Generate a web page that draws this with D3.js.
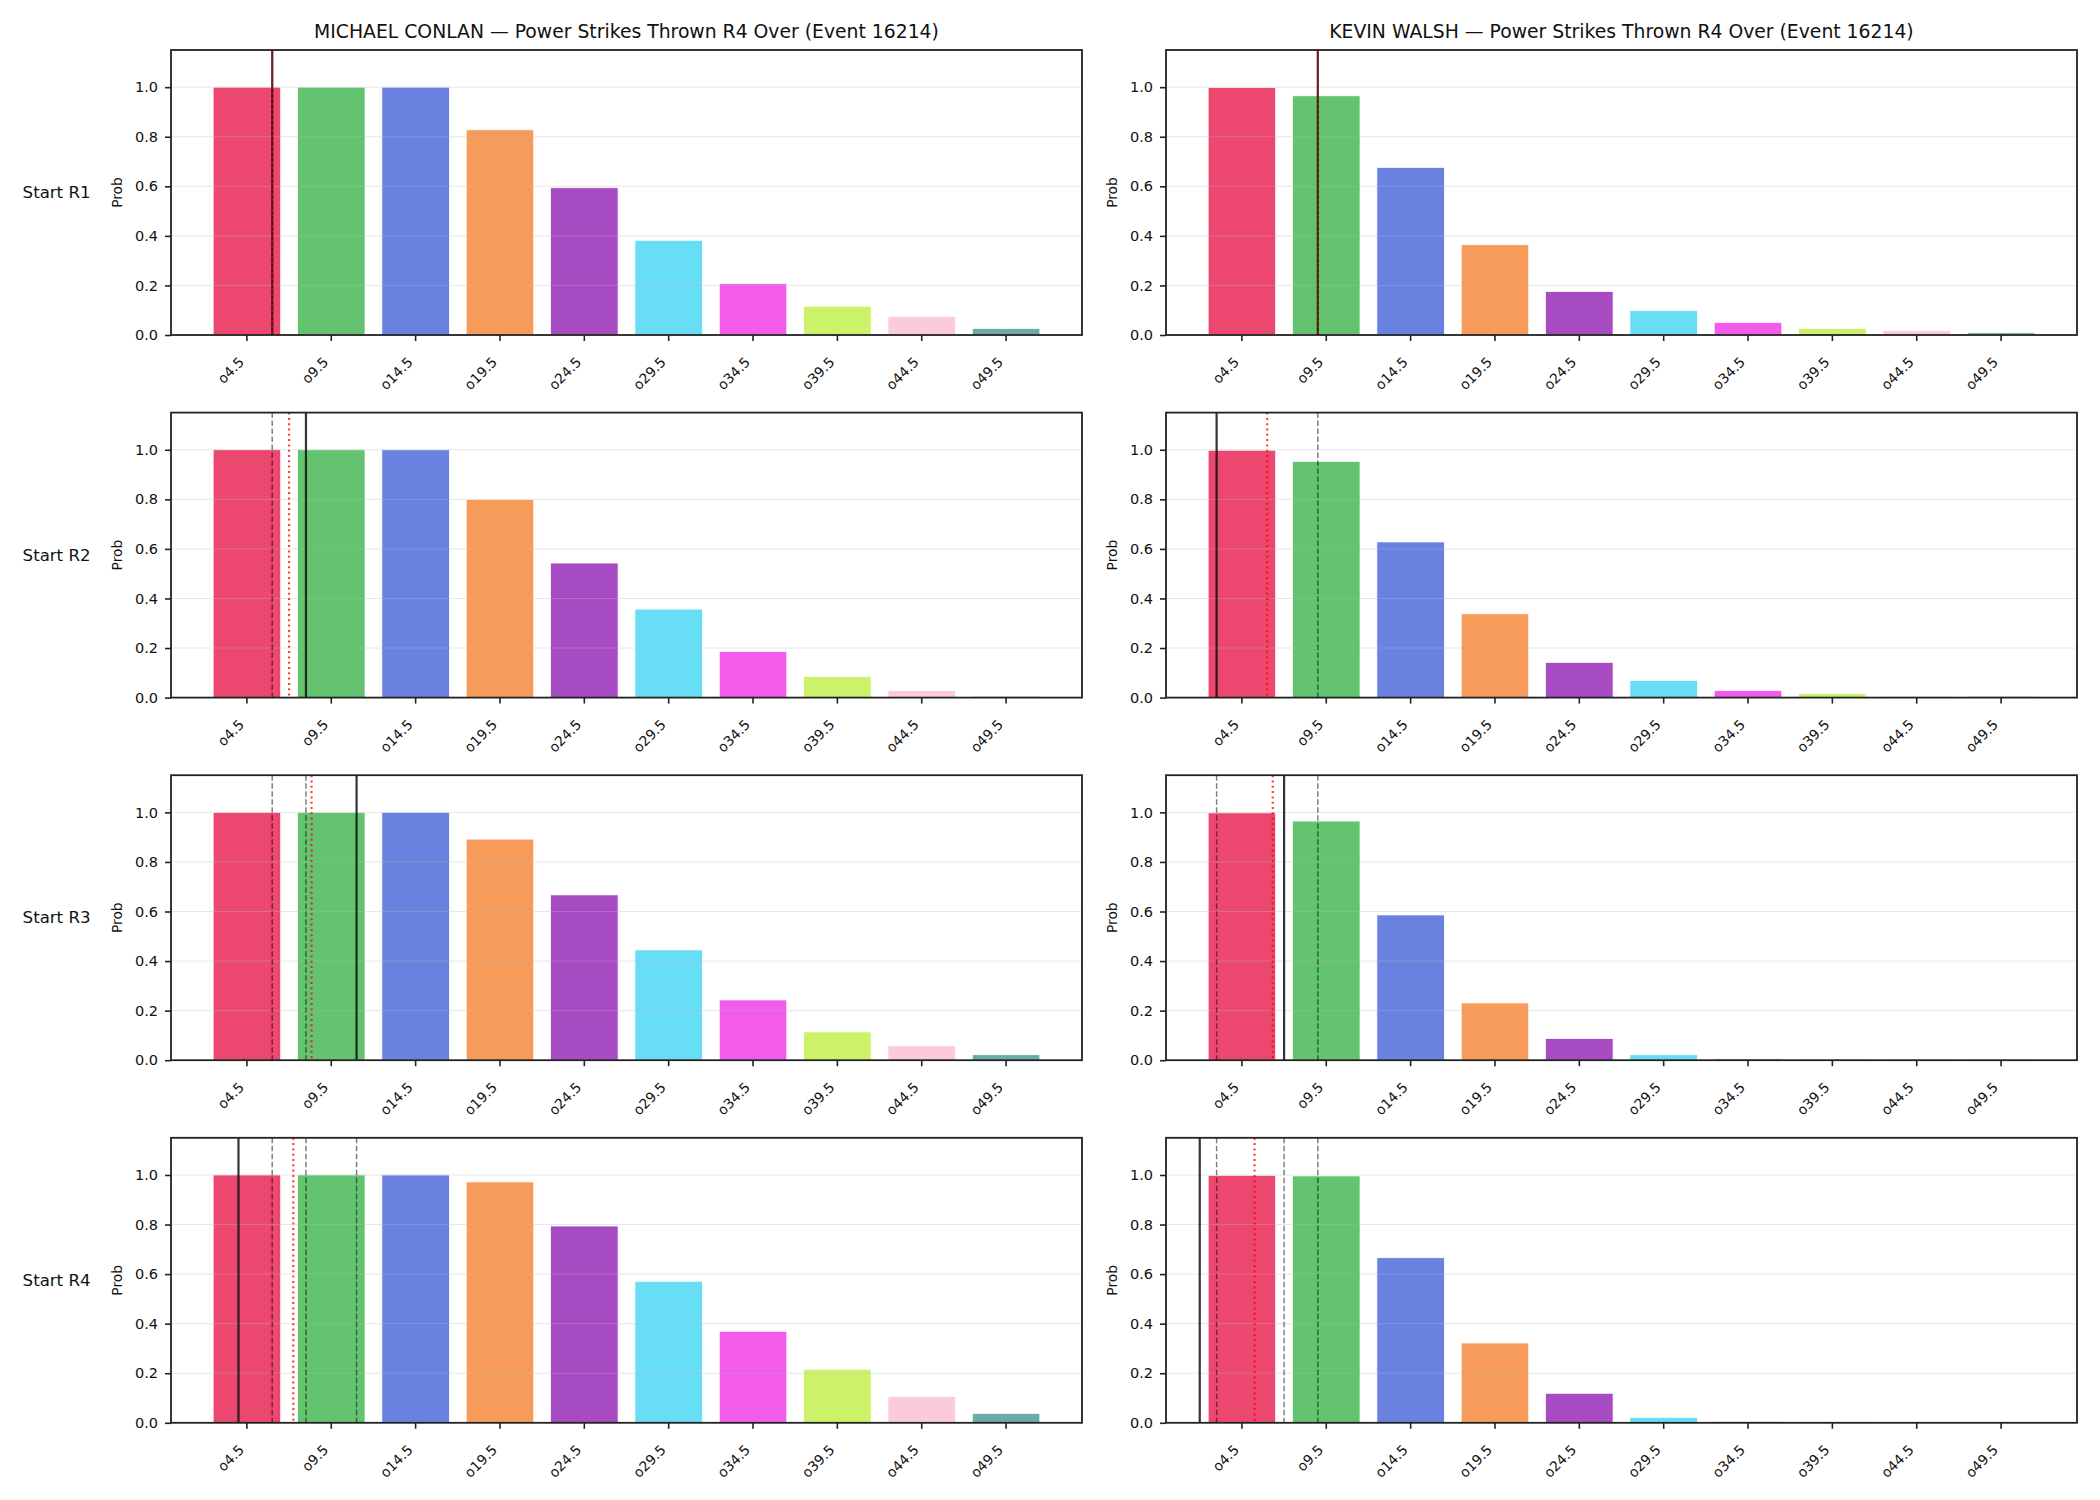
<!DOCTYPE html>
<html>
<head>
<meta charset="utf-8">
<script src="https://cdn.jsdelivr.net/npm/d3@7"></script>
<style>
    body { margin: 0; background: #fff; }
    svg { font-family: "DejaVu Sans", sans-serif; }
    .axis path, .axis line { stroke: #222; }
    .axis text { fill: #111; }
</style>
</head>
<body>
<div id="chart"></div>
<script>
// ---- data ----
const fighters = ["MICHAEL CONLAN", "KEVIN WALSH"];
const rowLabels = ["Start R1", "Start R2", "Start R3", "Start R4"];
const lineLabels = ["o4.5", "o9.5", "o14.5", "o19.5", "o24.5", "o29.5", "o34.5", "o39.5", "o44.5", "o49.5"];
const lineValues = [4.5, 9.5, 14.5, 19.5, 24.5, 29.5, 34.5, 39.5, 44.5, 49.5];
const yTicks = [0, 0.2, 0.4, 0.6, 0.8, 1.0];

// over probabilities per start round (rows)
const conlanProbs = [
    [1.0, 1.0, 1.0, 0.828, 0.594, 0.382, 0.207, 0.116, 0.075, 0.026],
    [1.0, 1.0, 1.0, 0.799, 0.543, 0.357, 0.186, 0.085, 0.028, 0.005],
    [1.0, 1.0, 1.0, 0.892, 0.667, 0.445, 0.243, 0.114, 0.058, 0.022],
    [1.0, 1.0, 1.0, 0.972, 0.794, 0.571, 0.369, 0.216, 0.106, 0.038]
];
const walshProbs = [
    [0.998, 0.965, 0.676, 0.364, 0.175, 0.098, 0.050, 0.026, 0.017, 0.009],
    [0.998, 0.953, 0.628, 0.338, 0.142, 0.069, 0.028, 0.016, 0.005, 0.005],
    [0.998, 0.965, 0.586, 0.231, 0.087, 0.022, 0.005, 0.004, 0.003, 0.001],
    [0.998, 0.996, 0.666, 0.322, 0.119, 0.022, 0.005, 0.004, 0.001, 0.0]
];

// strikes per round (black = current round, dashed grey = earlier rounds)
const conlanRounds = [6, 8, 11, 4];
const walshRounds = [9, 3, 7, 2];
// running average (red dotted)
const conlanAvg = [6, 7, 8.33, 7.25];
const walshAvg = [9, 6, 6.33, 5.25];

const barColors = ["#e6194b", "#3cb44b", "#4363d8", "#f58231", "#911eb4",
                   "#42d4f4", "#f032e6", "#bfef45", "#fabed4", "#469990"];

const panels = [
    {name: fighters[0], probs: conlanProbs, rounds: conlanRounds, avg: conlanAvg},
    {name: fighters[1], probs: walshProbs, rounds: walshRounds, avg: walshAvg}
];

// ---- layout ----
const W = 2100, H = 1500;
const colX = [171, 1166];
const rowTop = 50, rowStep = 362.6;
const pw = 911, ph = 285;

const svg = d3.select("#chart").append("svg")
    .attr("width", W)
    .attr("height", H);

const x = d3.scaleBand()
    .domain(lineLabels)
    .range([0, pw])
    .paddingInner(0.2)
    .paddingOuter(0.5);

// strikes -> position on the category axis
const xs = d3.scaleLinear()
    .domain([lineValues[0], lineValues[lineValues.length - 1]])
    .range([x(lineLabels[0]) + x.bandwidth() / 2, x(lineLabels[lineLabels.length - 1]) + x.bandwidth() / 2]);

const y = d3.scaleLinear()
    .domain([0, 1.15])
    .range([ph, 0]);

panels.forEach((p, c) => {
    rowLabels.forEach((rl, r) => {
        let g = svg.append("g")
            .attr("transform", `translate(${colX[c]}, ${rowTop + r * rowStep})`);

        let data = lineLabels.map((l, i) => ({label: l, value: p.probs[r][i], color: barColors[i]}));

        g.selectAll(".bar")
            .data(data)
            .enter()
            .append("rect")
            .attr("class", "bar")
            .attr("x", d => x(d.label))
            .attr("width", x.bandwidth())
            .attr("y", d => y(d.value))
            .attr("height", d => ph - y(d.value))
            .attr("fill", d => d.color)
            .attr("fill-opacity", 0.8)
            .attr("stroke", "#fff")
            .attr("stroke-width", 0.7);

        // grid on top, faint
        g.selectAll(".grid")
            .data(yTicks.slice(1))
            .enter()
            .append("line")
            .attr("x1", 0)
            .attr("x2", pw)
            .attr("y1", d => y(d))
            .attr("y2", d => y(d))
            .attr("stroke", "#bbb")
            .attr("stroke-opacity", 0.35)
            .attr("stroke-width", 1);

        // current round actual
        g.append("line")
            .attr("x1", xs(p.rounds[r])).attr("x2", xs(p.rounds[r]))
            .attr("y1", 0).attr("y2", ph)
            .attr("stroke", "#111")
            .attr("stroke-opacity", 0.85)
            .attr("stroke-width", 2.2);

        // earlier rounds
        g.selectAll(".prev")
            .data(p.rounds.slice(0, r))
            .enter()
            .append("line")
            .attr("class", "prev")
            .attr("x1", d => xs(d)).attr("x2", d => xs(d))
            .attr("y1", 0).attr("y2", ph)
            .attr("stroke", "#000")
            .attr("stroke-opacity", 0.5)
            .attr("stroke-width", 1.5)
            .attr("stroke-dasharray", "5.5,2.5");

        // running average
        g.append("line")
            .attr("x1", xs(p.avg[r])).attr("x2", xs(p.avg[r]))
            .attr("y1", 0).attr("y2", ph)
            .attr("stroke", "#ff0000")
            .attr("stroke-opacity", 0.75)
            .attr("stroke-width", 2.2)
            .attr("stroke-dasharray", "2,3.3");

        // axes
        let yAxis = d3.axisLeft(y)
            .tickValues(yTicks)
            .tickFormat(d3.format(".1f"))
            .tickSize(6)
            .tickPadding(7);
        let ya = g.append("g").attr("class", "axis").call(yAxis)
            .attr("font-family", "DejaVu Sans");
        ya.select(".domain").remove();
        ya.selectAll("line").attr("stroke-width", 1.6);
        ya.selectAll("text").attr("font-size", "14.5px");

        let xAxis = d3.axisBottom(x).tickSize(6).tickSizeOuter(0);
        let xa = g.append("g").attr("class", "axis")
            .attr("transform", `translate(0, ${ph})`)
            .call(xAxis)
            .attr("font-family", "DejaVu Sans");
        xa.select(".domain").remove();
        xa.selectAll("line").attr("stroke-width", 1.6);
        xa.selectAll("text")
            .attr("font-size", "13.8px")
            .attr("text-anchor", "end")
            .attr("dy", 0)
            .attr("y", 0)
            .attr("transform", "translate(-2, 28) rotate(-45)");

        // frame
        g.append("rect")
            .attr("width", pw)
            .attr("height", ph)
            .attr("fill", "none")
            .attr("stroke", "#222")
            .attr("stroke-width", 1.8);

        g.append("text")
            .text("Prob")
            .attr("transform", `translate(-49, ${ph / 2}) rotate(-90)`)
            .attr("text-anchor", "middle")
            .attr("font-size", "13.8px")
            .attr("fill", "#111");

        if (r === 0) {
            g.append("text")
                .text(`${p.name} — Power Strikes Thrown R4 Over (Event 16214)`)
                .attr("x", pw / 2)
                .attr("y", -12)
                .attr("text-anchor", "middle")
                .attr("font-size", "18.8px")
                .attr("fill", "#111");
        }

        if (c === 0) {
            g.append("text")
                .text(rl)
                .attr("x", 90.5 - colX[0])
                .attr("y", ph / 2)
                .attr("dy", "0.35em")
                .attr("text-anchor", "end")
                .attr("font-size", "16.6px")
                .attr("fill", "#111");
        }
    });
});
</script>
</body>
</html>
